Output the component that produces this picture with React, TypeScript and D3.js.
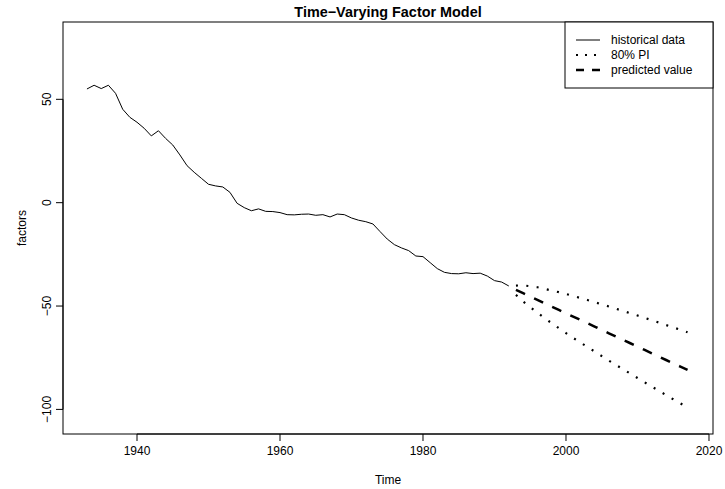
import React from "react";
import * as d3 from "d3";

const histYears: number[] = d3.range(1933, 1993);
const histValues: number[] = [
  55.0, 56.8, 55.2, 56.8, 52.9, 45.2, 41.3, 38.9, 36.0, 32.3,
  34.8, 31.1, 27.9, 23.1, 17.9, 14.7, 11.8, 8.9, 8.1, 7.6,
  5.0, -0.3, -2.4, -3.9, -3.0, -4.2, -4.3, -4.8, -5.8, -5.9,
  -5.6, -5.5, -6.1, -5.8, -6.9, -5.5, -5.8, -7.4, -8.5, -9.2,
  -10.3, -14.0, -17.6, -20.3, -21.9, -23.2, -25.8, -26.1, -29.0, -31.9,
  -33.7, -34.3, -34.4, -33.9, -34.3, -34.1, -35.5, -37.7, -38.4, -40.3,
];

const fcYears: number[] = d3.range(1993, 2018);
const predValues: number[] = [
  -42.2, -43.8, -45.4, -47.0, -48.7, -50.3, -51.9, -53.5, -55.1, -56.7,
  -58.3, -59.9, -61.6, -63.2, -64.8, -66.4, -68.0, -69.6, -71.2, -72.9,
  -74.5, -76.1, -77.7, -79.3, -80.9,
];
const upperValues: number[] = [
  -40.1, -40.0, -40.4, -40.9, -41.7, -42.5, -43.3, -44.2, -45.1, -46.1,
  -47.1, -48.1, -49.2, -50.2, -51.3, -52.4, -53.5, -54.6, -55.7, -56.9,
  -58.0, -59.2, -60.3, -61.5, -62.7,
];
const lowerValues: number[] = [
  -44.6, -47.8, -50.5, -53.2, -55.8, -58.3, -60.7, -63.1, -65.4, -67.6,
  -69.8, -72.0, -74.2, -76.4, -78.5, -80.6, -82.7, -84.8, -86.9, -89.0,
  -91.0, -93.1, -95.1, -97.1, -99.1,
];

const xTicks: number[] = [1940, 1960, 1980, 2000, 2020];
const yTicks: number[] = [-100, -50, 0, 50];
const legendLabels: string[] = ["historical data", "80% PI", "predicted value"];

const W = 725;
const H = 489;
const L = 63, R = 713, T = 22, B = 434;
const FONT = "'Liberation Sans', Arial, Helvetica, sans-serif";

export default function App() {
  const x = d3.scaleLinear().domain([1929.65, 2020.56]).range([L, R]);
  const y = d3.scaleLinear().domain([-111.9, 87.4]).range([B, T]);

  const line = (ys: number[], vs: number[]) =>
    d3.line<number>().x((_, i) => x(ys[i])).y((v) => y(v))(vs) || "";

  const legendStyles = [
    { dash: undefined as string | undefined, w: 1 },
    { dash: "2 7", w: 2 },
    { dash: "8 8", w: 2.5 },
  ];

  return (
    <svg
      width={W}
      height={H}
      style={{ position: "absolute", left: 0, top: 0, background: "#fff" }}
      fontFamily={FONT}
    >
      <rect x={0} y={0} width={W} height={H} fill="#fff" />
      <text x={(L + R) / 2} y={17} textAnchor="middle" fontWeight="bold" fontSize={14.4}>
        Time−Varying Factor Model
      </text>

      {/* data */}
      <path d={line(histYears, histValues)} fill="none" stroke="#000" strokeWidth={1} />
      <path d={line(fcYears, upperValues)} fill="none" stroke="#000" strokeWidth={2.2} strokeDasharray="2 8.4" />
      <path d={line(fcYears, lowerValues)} fill="none" stroke="#000" strokeWidth={2.2} strokeDasharray="2 8.4" />
      <path d={line(fcYears, predValues)} fill="none" stroke="#000" strokeWidth={2.5} strokeDasharray="10 10" />

      {/* box */}
      <rect x={L} y={T} width={R - L} height={B - T} fill="none" stroke="#000" strokeWidth={1} />

      {/* x axis */}
      <line x1={x(xTicks[0])} x2={x(xTicks[xTicks.length - 1])} y1={B} y2={B} stroke="#000" />
      {xTicks.map((t) => (
        <g key={t}>
          <line x1={x(t)} x2={x(t)} y1={B} y2={B + 7} stroke="#000" />
          <text x={x(t)} y={455} textAnchor="middle" fontSize={12}>
            {t}
          </text>
        </g>
      ))}
      <text x={(L + R) / 2} y={484} textAnchor="middle" fontSize={12}>
        Time
      </text>

      {/* y axis */}
      <line x1={L} x2={L} y1={y(yTicks[0])} y2={y(yTicks[yTicks.length - 1])} stroke="#000" />
      {yTicks.map((t) => (
        <g key={t}>
          <line x1={L - 7} x2={L} y1={y(t)} y2={y(t)} stroke="#000" />
          <text
            transform={`translate(51,${y(t)}) rotate(-90)`}
            textAnchor="middle"
            fontSize={12}
          >
            {t < 0 ? "−" + Math.abs(t) : String(t)}
          </text>
        </g>
      ))}
      <text transform={`translate(26,${(T + B) / 2}) rotate(-90)`} textAnchor="middle" fontSize={12}>
        factors
      </text>

      {/* legend */}
      <rect x={565} y={T} width={R - 565} height={88 - T} fill="#fff" stroke="#000" strokeWidth={1} />
      {legendLabels.map((lab, i) => {
        const cy = 40 + i * 15;
        const s = legendStyles[i];
        return (
          <g key={lab}>
            <line x1={576} x2={600} y1={cy} y2={cy} stroke="#000" strokeWidth={s.w} strokeDasharray={s.dash} />
            <text x={611} y={cy + 4.3} fontSize={12}>
              {lab}
            </text>
          </g>
        );
      })}
    </svg>
  );
}
